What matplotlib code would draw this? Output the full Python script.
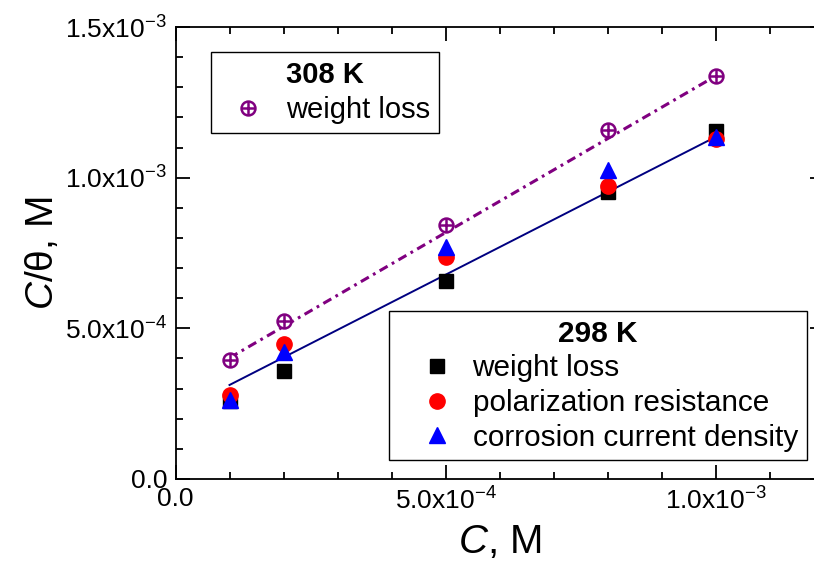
import numpy as np
import matplotlib
matplotlib.use("Agg")
import matplotlib.pyplot as plt
from matplotlib.ticker import MultipleLocator, FuncFormatter
from matplotlib.legend_handler import HandlerTuple

plt.rcParams['font.family'] = ['Liberation Sans', 'DejaVu Sans']
plt.rcParams['mathtext.fontset'] = 'custom'
plt.rcParams['mathtext.rm'] = 'Liberation Sans'
plt.rcParams['mathtext.it'] = 'Liberation Sans:italic'

# concentrations, M
conc = [1e-4, 2e-4, 5e-4, 8e-4, 1e-3]
# 308 K
wl_308 = [3.95e-4, 5.24e-4, 8.43e-4, 1.158e-3, 1.337e-3]
# 298 K
wl_298 = [2.60e-4, 3.58e-4, 6.57e-4, 9.52e-4, 1.155e-3]
pr_298 = [2.79e-4, 4.48e-4, 7.37e-4, 9.72e-4, 1.128e-3]
ccd_298 = [2.62e-4, 4.21e-4, 7.70e-4, 1.025e-3, 1.135e-3]
# fitted lines as drawn (ends at 1e-4 and 1e-3 M)
fit_x = [1e-4, 1e-3]
fit_308 = [4.02e-4, 1.337e-3]
fit_298 = [3.12e-4, 1.135e-3]

fig = plt.figure(figsize=(8.14, 5.81), dpi=100)
ax = fig.add_axes([175.5/814, 102/581, 648/814, 452/581])

ax.plot(fit_x, fit_308, color='#800080', lw=2.2, dashes=(3, 1.6, 0.9, 1.6))
ax.plot(fit_x, fit_298, color='#000080', lw=1.4)

h_sq, = ax.plot(conc, wl_298, 's', color='black', ms=9.5, ls='none')
h_ci, = ax.plot(conc, pr_298, 'o', color='red', ms=11, ls='none')
h_tr, = ax.plot(conc, ccd_298, '^', color='blue', ms=12, ls='none')
h_o, = ax.plot(conc, wl_308, 'o', mfc='white', mec='#800080', mew=1.8, ms=10, ls='none')
h_p, = ax.plot(conc, wl_308, '+', color='#800080', mew=1.8, ms=10, ls='none')

ax.set_xlim(0, 1.2e-3)
ax.set_ylim(0, 1.5e-3)
ax.xaxis.set_major_locator(MultipleLocator(5e-4))
ax.xaxis.set_minor_locator(MultipleLocator(1e-4))
ax.yaxis.set_major_locator(MultipleLocator(5e-4))
ax.yaxis.set_minor_locator(MultipleLocator(1e-4))


def fmt(v, pos):
    if abs(v) < 1e-12:
        return '0.0'
    e = int(np.floor(np.log10(abs(v)) + 1e-9))
    m = v / 10**e
    return r'$\mathregular{%.1fx10^{%d}}$' % (m, e)


ax.xaxis.set_major_formatter(FuncFormatter(fmt))
ax.yaxis.set_major_formatter(FuncFormatter(fmt))
ax.tick_params(which='both', direction='in', top=True, right=True, width=1.3)
ax.tick_params(which='major', length=10, labelsize=19, pad=6)
ax.tick_params(which='minor', length=5)
for s in ax.spines.values():
    s.set_linewidth(1.3)

ax.set_xlabel(r'$\mathit{C}$, M', fontsize=29, labelpad=6)
ax.set_ylabel(r'$\mathit{C}$/θ, M', fontsize=28, labelpad=3)

leg1 = ax.legend([(h_o, h_p)], ['weight loss'], title='308 K',
                 handler_map={tuple: HandlerTuple(ndivide=1)},
                 loc='upper left', bbox_to_anchor=(211/814, 1 - 52/581),
                 bbox_transform=fig.transFigure, fontsize=21, title_fontsize=21,
                 fancybox=False, edgecolor='black', framealpha=1,
                 handletextpad=0.33, borderpad=0.3, labelspacing=0.25,
                 handlelength=1.94, borderaxespad=0)
leg1.get_title().set_fontweight('bold')
leg1.get_frame().set_linewidth(1)
ax.add_artist(leg1)

leg2 = ax.legend([h_sq, h_ci, h_tr],
                 ['weight loss', 'polarization resistance', 'corrosion current density'],
                 title='298 K', loc='upper left',
                 bbox_to_anchor=(389/814, 1 - 311/581),
                 bbox_transform=fig.transFigure, fontsize=21.4, title_fontsize=21.4,
                 fancybox=False, edgecolor='black', framealpha=1,
                 handletextpad=-0.15, borderpad=0.3, labelspacing=0.22,
                 handlelength=2.66, borderaxespad=0)
leg2.get_title().set_fontweight('bold')
leg2.get_frame().set_linewidth(1)

fig.savefig('out.png', dpi=100)
